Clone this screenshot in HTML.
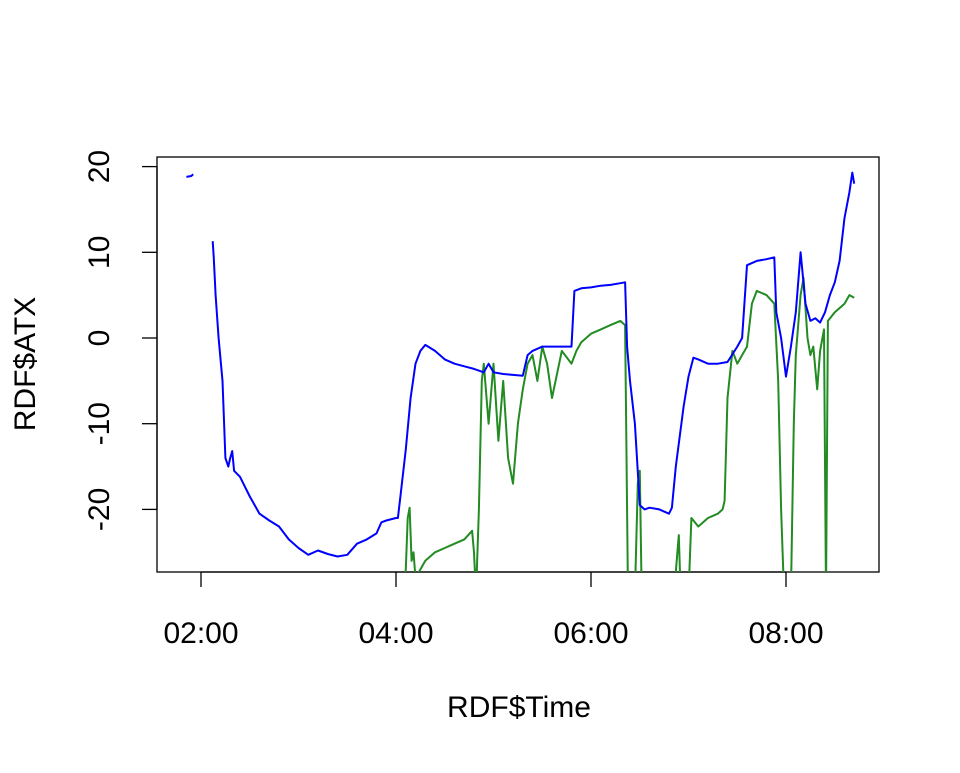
<!DOCTYPE html>
<html><head><meta charset="utf-8"><style>
body{margin:0;background:#fff}
text{font-family:"Liberation Sans",Arial,sans-serif;font-size:30px;fill:#000}
</style></head><body>
<svg id="chart" width="960" height="768">
<defs><clipPath id="clip"><rect x="157" y="157" width="722" height="415"/></clipPath></defs>
<rect x="157" y="157" width="722" height="415" fill="none" stroke="#000" stroke-width="1.3"/>
<g id="axes"></g>
<g id="series" clip-path="url(#clip)"></g>
<text x="519" y="717" text-anchor="middle">RDF$Time</text>
<text transform="translate(35,364) rotate(-90)" text-anchor="middle">RDF$ATX</text>
</svg>
<script>
const xTicks=[2,4,6,8];
const xTickLabels=["02:00","04:00","06:00","08:00"];
const yTicks=[-20,-10,0,10,20];
const blueT=[1.85,1.9,1.92,null,2.12,2.13,2.15,2.18,2.22,2.25,2.28,2.3,2.32,2.34,2.4,2.5,2.6,2.7,2.8,2.9,3.0,3.1,3.2,3.3,3.4,3.5,3.6,3.7,3.8,3.85,3.9,4.0,4.02,4.05,4.1,4.15,4.2,4.25,4.3,4.4,4.5,4.6,4.7,4.8,4.9,4.95,5.0,5.1,5.2,5.3,5.35,5.4,5.5,5.65,5.8,5.83,5.9,6.0,6.1,6.2,6.3,6.35,6.37,6.4,6.45,6.5,6.55,6.6,6.7,6.8,6.83,6.87,6.95,7.0,7.05,7.1,7.2,7.3,7.4,7.5,7.55,7.6,7.7,7.8,7.88,7.9,7.95,8.0,8.05,8.1,8.15,8.2,8.25,8.3,8.35,8.4,8.45,8.5,8.55,8.6,8.65,8.68,8.7];
const blueV=[18.8,18.9,19.1,null,11.3,9.5,5,0,-5,-14,-15,-14,-13.2,-15.5,-16.2,-18.5,-20.5,-21.3,-22,-23.5,-24.5,-25.3,-24.8,-25.2,-25.5,-25.3,-24,-23.5,-22.8,-21.5,-21.3,-21,-21,-18,-13,-7,-3,-1.5,-0.8,-1.5,-2.5,-3,-3.3,-3.6,-4,-3,-4,-4.2,-4.3,-4.4,-2,-1.5,-1,-1,-1,5.5,5.8,5.9,6.1,6.2,6.4,6.5,-1,-5,-10,-19.5,-20,-19.8,-20,-20.5,-19.8,-15,-8,-4.5,-2.3,-2.5,-3,-3,-2.8,-1,0,8.5,9,9.2,9.4,3,0,-4.5,-1,3,10,4,2,2.3,1.8,3,5,6.5,9,14,17,19.3,18];
const greenT=[4.05,4.1,4.12,4.14,4.16,4.18,4.2,4.25,4.3,4.4,4.5,4.6,4.7,4.78,4.8,4.82,4.85,4.88,4.9,4.95,5.0,5.05,5.1,5.15,5.2,5.25,5.3,5.35,5.4,5.45,5.5,5.55,5.6,5.7,5.8,5.85,5.9,6.0,6.1,6.2,6.3,6.35,6.38,6.45,6.48,6.5,6.52,6.85,6.9,6.92,7.0,7.03,7.1,7.2,7.3,7.35,7.37,7.4,7.45,7.5,7.55,7.6,7.65,7.7,7.8,7.88,7.92,7.95,7.98,8.05,8.08,8.1,8.15,8.18,8.22,8.25,8.28,8.32,8.35,8.39,8.41,8.43,8.5,8.6,8.65,8.7];
const greenV=[-30,-27,-21,-19.8,-26,-25,-28,-27,-26,-25,-24.5,-24,-23.5,-22.5,-25,-30,-20,-5,-3,-10,-3,-12,-5,-14,-17,-10,-6,-3,-2,-5,-1,-3,-7,-1.5,-3,-1.5,-0.5,0.5,1,1.5,2,1.5,-30,-30,-17,-15.5,-30,-30,-23,-30,-30,-21,-22,-21,-20.5,-20,-19,-7,-1.5,-3,-2,-1,4,5.5,5,4,-5,-20,-30,-30,-10,-2,5,7,0,-2,-1,-6,-1.5,1,-30,2,3,4,5,4.7];
const X=t=>201+(t-2)*97.5;
const Y=v=>338-v*8.57;
const NS="http://www.w3.org/2000/svg";
const axes=document.getElementById('axes'),ser=document.getElementById('series');
function mk(tag,attrs,parent){const e=document.createElementNS(NS,tag);for(const k in attrs)e.setAttribute(k,attrs[k]);parent.appendChild(e);return e;}
mk('line',{x1:X(2),x2:X(8),y1:572,y2:572,stroke:'#000','stroke-width':1.3},axes);
xTicks.forEach((t,i)=>{
 const l=mk('line',{x1:X(t),x2:X(t),y1:572,y2:587,stroke:'#000','stroke-width':1.3},axes);
 
 
 const tx=mk('text',{x:X(t),y:643,'text-anchor':'middle'},axes);tx.textContent=xTickLabels[i];
 
 
});
mk('line',{x1:157,x2:157,y1:Y(-20),y2:Y(20),stroke:'#000','stroke-width':1.3},axes);
yTicks.forEach(v=>{
 const l=mk('line',{x1:142,x2:157,y1:Y(v),y2:Y(v),stroke:'#000','stroke-width':1.3},axes);
 
 
 const tx=mk('text',{transform:`translate(109,${Y(v)}) rotate(-90)`,'text-anchor':'middle'},axes);tx.textContent=String(v);
 
 
});
function path(T,V,color,name){
 let d='',pen=false;
 for(let i=0;i<T.length;i++){if(T[i]===null){pen=false;continue;}d+=(pen?'L':'M')+X(T[i]).toFixed(1)+','+Y(V[i]).toFixed(1);pen=true;}
 const p=mk('path',{d:d,fill:'none',stroke:color,'stroke-width':2,'stroke-linejoin':'round'},ser);
 
 
}
path(greenT,greenV,'#228B22','series-green');
path(blueT,blueV,'#0000FF','series-blue');
</script>
</body></html>
